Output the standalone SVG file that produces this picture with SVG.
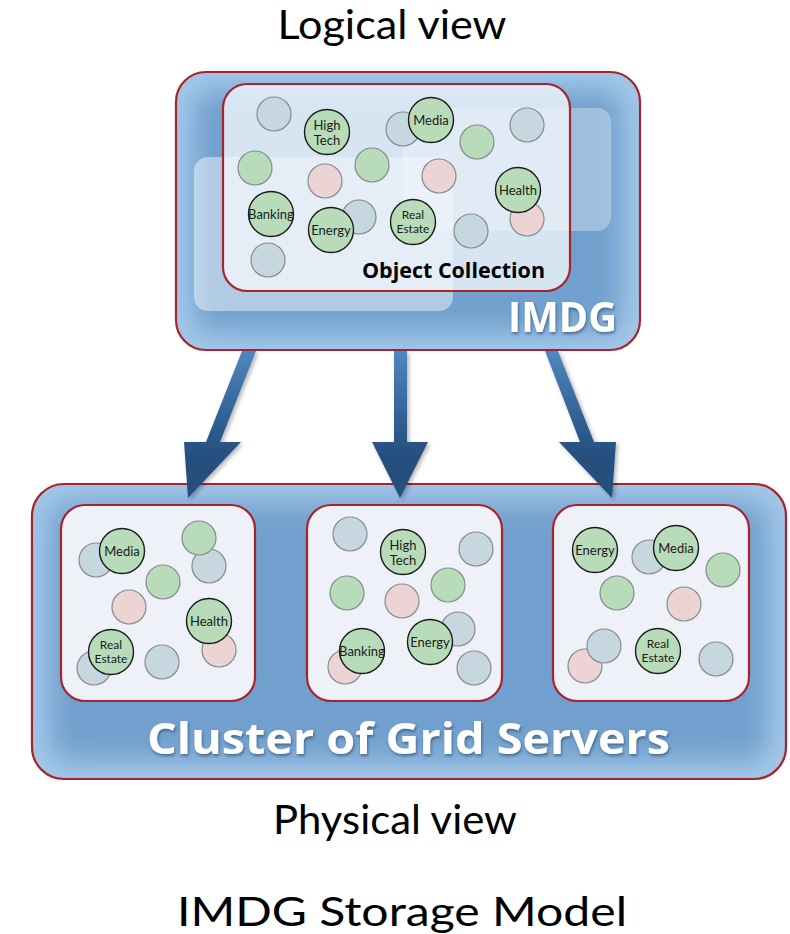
<svg xmlns="http://www.w3.org/2000/svg" width="790" height="934" viewBox="0 0 790 934">
<style>
.title{font-family:Lato,"Liberation Sans",sans-serif;font-size:40px;fill:#000;text-anchor:middle}
.box-edge{fill:none;stroke:#a8232b;stroke-width:2.2}
.server{fill:#eef2f8;stroke:#a8232b;stroke-width:2.2}
.g{fill:#c7d7e0;stroke:#868b8e;stroke-width:1.2}
.n{fill:#b8dcb9;stroke:#868b8e;stroke-width:1.2}
.p{fill:#ecd4d4;stroke:#868b8e;stroke-width:1.2}
.L{fill:#b8dcb9;stroke:#1b1b1b;stroke-width:1.4}
.lt{font-family:Lato,"Liberation Sans",sans-serif;font-size:13px;fill:#1a1a1a;text-anchor:middle}
.re{font-size:12px}
.big{font-family:"Open Sans","Liberation Sans",sans-serif;font-weight:700;fill:#fff}
.arrow{fill:url(#arrowGrad);filter:url(#shadow)}
</style>
<defs>
<filter id="blur" x="-20%" y="-20%" width="140%" height="140%"><feGaussianBlur stdDeviation="13"/></filter>
<filter id="shadow" x="-30%" y="-30%" width="160%" height="160%"><feDropShadow dx="2" dy="2" stdDeviation="2" flood-color="#000" flood-opacity="0.3"/></filter>
<filter id="tshadow" x="-10%" y="-30%" width="120%" height="160%"><feDropShadow dx="1" dy="2" stdDeviation="1.5" flood-color="#1d3d63" flood-opacity="0.6"/></filter>
<linearGradient id="arrowGrad" gradientUnits="userSpaceOnUse" x1="0" y1="350" x2="0" y2="460">
<stop offset="0" stop-color="#4f87c0"/><stop offset="0.8" stop-color="#2a5688"/><stop offset="1" stop-color="#264f7e"/>
</linearGradient>
<clipPath id="clipTop"><rect x="176" y="72" width="464" height="278" rx="30"/></clipPath>
<clipPath id="clipBot"><rect x="32" y="484" width="754" height="295" rx="32"/></clipPath>
</defs>

<rect width="790" height="934" fill="#fff"/>

<text class="title" x="392" y="39" textLength="229" lengthAdjust="spacingAndGlyphs">Logical view</text>

<g id="imdg">
<rect x="176" y="72" width="464" height="278" rx="30" fill="#a2c7e8"/>
<g clip-path="url(#clipTop)"><rect x="194" y="90" width="428" height="242" rx="20" fill="#72a0ce" filter="url(#blur)"/></g>
<rect x="176" y="72" width="464" height="278" rx="30" class="box-edge"/>
<rect x="403" y="108" width="208" height="123" rx="14" fill="#fff" fill-opacity="0.32"/>
<rect x="194" y="157" width="259" height="154" rx="14" fill="#fff" fill-opacity="0.45"/>
<g id="object-collection">
<rect x="223" y="84" width="347" height="207" rx="24" fill="#f4f7fb" fill-opacity="0.78" stroke="#a8232b" stroke-width="2.2"/>
<circle class="g" cx="274" cy="114" r="17"/>
<circle class="g" cx="403" cy="129" r="17"/>
<circle class="n" cx="477" cy="142" r="17"/>
<circle class="g" cx="527" cy="125" r="17"/>
<circle class="n" cx="255" cy="168" r="17"/>
<circle class="p" cx="325" cy="181" r="17"/>
<circle class="n" cx="372" cy="165" r="17"/>
<circle class="p" cx="439" cy="176" r="17"/>
<circle class="p" cx="527" cy="219" r="17"/>
<circle class="g" cx="359" cy="217" r="17"/>
<circle class="g" cx="471" cy="231" r="17"/>
<circle class="g" cx="268" cy="260" r="17"/>
<circle class="L" cx="327" cy="132" r="22.5"/>
<text class="lt" x="327" y="129.5" font-size="14">High</text>
<text class="lt" x="327" y="145" font-size="14">Tech</text>
<circle class="L" cx="431" cy="120" r="22.5"/>
<text class="lt" x="431" y="124.5">Media</text>
<circle class="L" cx="518" cy="190" r="22.5"/>
<text class="lt" x="518" y="194.5">Health</text>
<circle class="L" cx="271" cy="214" r="22.5"/>
<text class="lt" x="271" y="218.5" font-size="12.5">Banking</text>
<circle class="L" cx="331" cy="230" r="22.5"/>
<text class="lt" x="331" y="234.5">Energy</text>
<circle class="L" cx="413" cy="222" r="22.5"/>
<text class="lt re" x="413" y="218.5">Real</text>
<text class="lt re" x="413" y="233">Estate</text>
<text x="362" y="278" font-family="'Open Sans','Liberation Sans',sans-serif" font-weight="700" font-size="21" fill="#000" textLength="183" lengthAdjust="spacingAndGlyphs">Object Collection</text>
</g>
<text class="big" x="508" y="332" font-size="41" textLength="109" lengthAdjust="spacingAndGlyphs" filter="url(#tshadow)">IMDG</text>
</g>

<g id="cluster">
<rect x="32" y="484" width="754" height="295" rx="32" fill="#a2c7e8"/>
<g clip-path="url(#clipBot)"><rect x="50" y="502" width="718" height="259" rx="22" fill="#72a0ce" filter="url(#blur)"/></g>
<rect x="32" y="484" width="754" height="295" rx="32" class="box-edge"/>

<g id="server1">
<rect class="server" x="61" y="505" width="194" height="196" rx="24"/>
<circle class="g" cx="96" cy="560" r="17"/>
<circle class="g" cx="209" cy="566" r="17"/>
<circle class="n" cx="199" cy="538" r="17"/>
<circle class="n" cx="163" cy="582" r="17"/>
<circle class="p" cx="129" cy="607" r="17"/>
<circle class="p" cx="219" cy="650" r="17"/>
<circle class="g" cx="94" cy="668" r="17"/>
<circle class="g" cx="162" cy="662" r="17"/>
<circle class="L" cx="122" cy="551" r="22.5"/>
<text class="lt" x="122" y="555.5">Media</text>
<circle class="L" cx="209" cy="621" r="22.5"/>
<text class="lt" x="209" y="625.5">Health</text>
<circle class="L" cx="111" cy="652" r="22.5"/>
<text class="lt re" x="111" y="648.5">Real</text>
<text class="lt re" x="111" y="663">Estate</text>
</g>

<g id="server2">
<rect class="server" x="307" y="505" width="195" height="196" rx="24"/>
<circle class="g" cx="350" cy="534" r="17"/>
<circle class="g" cx="476" cy="549" r="17"/>
<circle class="n" cx="347" cy="593" r="17"/>
<circle class="p" cx="402" cy="601" r="17"/>
<circle class="n" cx="448" cy="585" r="17"/>
<circle class="g" cx="458" cy="629" r="17"/>
<circle class="g" cx="474" cy="668" r="17"/>
<circle class="p" cx="345" cy="667" r="17"/>
<circle class="L" cx="403" cy="552" r="22.5"/>
<text class="lt" x="403" y="549.5" font-size="14">High</text>
<text class="lt" x="403" y="565" font-size="14">Tech</text>
<circle class="L" cx="430" cy="642" r="22.5"/>
<text class="lt" x="430" y="646.5">Energy</text>
<circle class="L" cx="362" cy="651" r="22.5"/>
<text class="lt" x="362" y="655.5" font-size="12.5">Banking</text>
</g>

<g id="server3">
<rect class="server" x="553" y="505" width="196" height="196" rx="24"/>
<circle class="g" cx="649" cy="557" r="17"/>
<circle class="n" cx="723" cy="570" r="17"/>
<circle class="n" cx="617" cy="593" r="17"/>
<circle class="p" cx="684" cy="604" r="17"/>
<circle class="p" cx="585" cy="666" r="17"/>
<circle class="g" cx="604" cy="646" r="17"/>
<circle class="g" cx="716" cy="659" r="17"/>
<circle class="L" cx="595" cy="550" r="22.5"/>
<text class="lt" x="595" y="554.5">Energy</text>
<circle class="L" cx="676" cy="548" r="22.5"/>
<text class="lt" x="676" y="552.5">Media</text>
<circle class="L" cx="658" cy="651" r="22.5"/>
<text class="lt re" x="658" y="647.5">Real</text>
<text class="lt re" x="658" y="662">Estate</text>
</g>

<text class="big" x="147" y="754" font-size="43" textLength="523" lengthAdjust="spacingAndGlyphs" filter="url(#tshadow)">Cluster of Grid Servers</text>
</g>

<g id="connectors">
<polygon class="arrow" points="242,351 256,351 220,442 241,442 188,498 184,442 206,442"/>
<polygon class="arrow" points="394,351 407,351 407,442 428,442 400,498 372,442 394,442"/>
<polygon class="arrow" points="545,351 558,351 594,442 616,442 612,498 559,442 580,442"/>
</g>

<text class="title" x="395" y="834" textLength="244" lengthAdjust="spacingAndGlyphs">Physical view</text>
<text class="title" x="402" y="926" font-size="52" textLength="450" lengthAdjust="spacingAndGlyphs">IMDG Storage Model</text>
</svg>
